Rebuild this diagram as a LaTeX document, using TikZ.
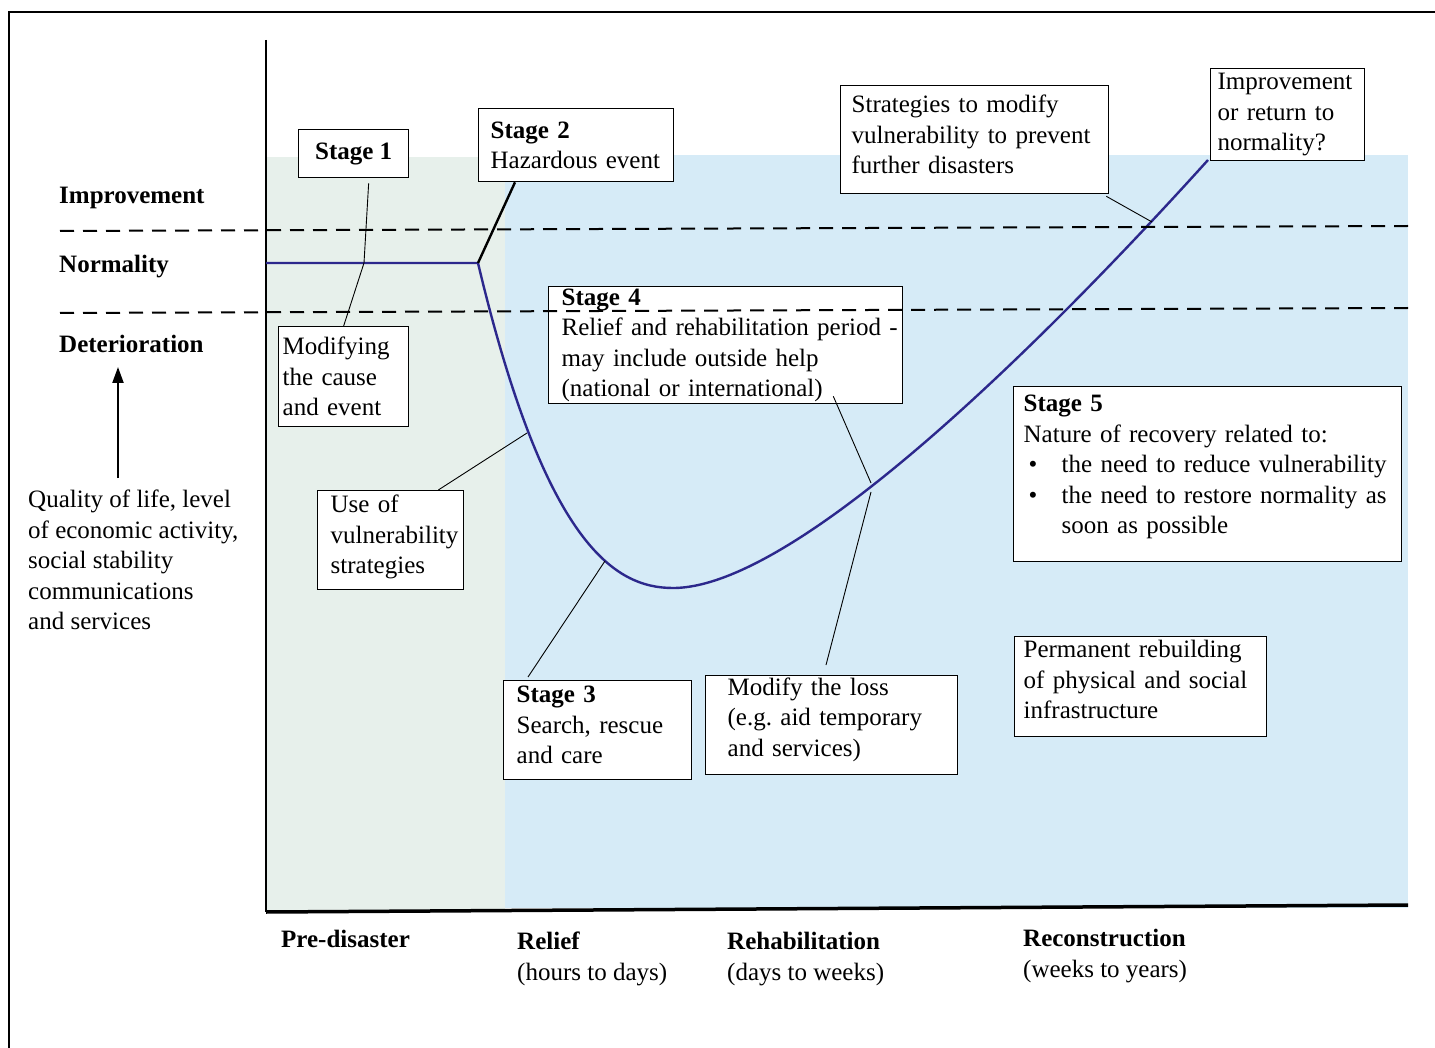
\documentclass[tikz,border=0pt]{standalone}
\usepackage{fontspec}
\setmainfont{Liberation Serif}
\usetikzlibrary{arrows.meta}

\definecolor{predis}{RGB}{231,240,235}
\definecolor{postdis}{RGB}{214,235,247}
\definecolor{curveblue}{RGB}{44,40,140}
\newcommand{\chartfont}{\fontsize{25}{30.5}\selectfont\frenchspacing}

\tikzset{
    box/.style={draw, line width=1.3pt, fill=white, inner sep=0pt, anchor=north west, align=left},
    lpad/.style={execute at begin node={\leftskip=#1pt\relax}},
    lift/.style={execute at end node={\rule[-#1pt]{0pt}{0pt}}},
    leader/.style={line width=0.9pt},
    lab/.style={inner sep=0pt, anchor=base west, font=\chartfont\bfseries},
    dashline/.style={line width=2pt, dash pattern=on 14pt off 9pt},
    uparrow/.style={line width=2.2pt, -{Triangle[length=16pt,width=11pt]}},
}

\begin{document}
\begin{tikzpicture}[x=1pt, y=-1pt, font=\chartfont]
    \useasboundingbox (0,0) rectangle (1435,1048);

    % frame
    \draw[line width=2.5pt] (9,1048) -- (9,12) -- (1435,12);

    % periods
    \fill[predis] (266,157) rectangle (505,912);
    \fill[postdis] (505,155) rectangle (1408,908);

    % axes
    \draw[line width=2.5pt] (266,40) -- (266,912);
    \draw[line width=3.5pt] (266,912) -- (1408,905);

    % points on the curve
    \coordinate (start) at (266,263);
    \coordinate (kink) at (478,263);
    \coordinate (c1) at (364,263);
    \coordinate (cUse) at (527,433);
    \coordinate (cS3) at (605,561);
    \coordinate (cS4) at (871,486);
    \coordinate (cStr) at (1152,222);

    % curve
    \draw[curveblue, line width=2.4pt] (start) -- (kink)
        .. controls (545,545) and (615,588) .. (673,588)
        .. controls (800,588) and (1058,326) .. (1208,160);

    % left labels
    \node[lab] (impr) at (59,204) {Improvement};
    \node[lab] (norm) at (59,273) {Normality};
    \node[lab] (det) at (59,353) {Deterioration};
    \node[inner sep=0pt, anchor=north west, align=left] (qual) at (28,490)
        {Quality of life, level\\of economic activity,\\social stability\\communications\\and services};
    \draw[uparrow] ([xshift=90pt,yshift=12pt]qual.north west) -- ([xshift=59pt,yshift=-14pt]det.base west);

    % boxes
    \node[box, align=center, minimum width=110pt, minimum height=48pt, font=\chartfont\bfseries] (s1) at (298,129) {Stage 1};
    \node[box, lpad=12, text width=195pt, minimum height=73pt] (s2) at (478,108)
        {\textbf{Stage 2}\\Hazardous event};
    \node[box, lpad=11, lift=10, text width=268pt, minimum height=108pt] (str) at (840,85)
        {Strategies to modify\\vulnerability to prevent\\further disasters};
    \node[box, lpad=7, text width=154pt, minimum height=92pt] (imp) at (1210,68)
        {Improvement\\or return to\\normality?};
    \node[box, lpad=4, text width=130pt, minimum height=100pt] (mod) at (278,326)
        {Modifying\\the cause\\and event};
    \node[box, lpad=13, text width=354pt, minimum height=117pt] (s4) at (548,286)
        {\textbf{Stage 4}\\Relief and rehabilitation period -\\may include outside help\\(national or international)};
    \node[box, lpad=13, lift=11, text width=146pt, minimum height=99pt] (use) at (317,490)
        {Use of\\vulnerability\\strategies};
    \node[box, lpad=13, lift=10, text width=188pt, minimum height=99pt] (s3) at (503,680)
        {\textbf{Stage 3}\\Search, rescue\\and care};
    \node[box, lpad=22, lift=16, text width=252pt, minimum height=99pt] (loss) at (705,675)
        {Modify the loss\\(e.g. aid temporary\\and services)};
    \node[box, lpad=10, lift=19, text width=388pt, minimum height=175pt] (s5) at (1013,386)
        {\textbf{Stage 5}\\Nature of recovery related to:\\
        \hspace*{5pt}\makebox[33pt][l]{\textbullet}the need to reduce vulnerability\\
        \hspace*{5pt}\makebox[33pt][l]{\textbullet}the need to restore normality as\\
        \hspace*{38pt}soon as possible};
    \node[box, lpad=9, lift=14, text width=252pt, minimum height=100pt] (perm) at (1014,636)
        {Permanent rebuilding\\of physical and social\\infrastructure};

    % leaders
    \draw[line width=2.4pt] (kink) -- ([xshift=37pt]s2.south west);
    \draw[leader] ([xshift=15pt,yshift=-5pt]s1.south) -- (c1) -- (mod.north);
    \draw[leader] ([xshift=-3pt,yshift=-2pt]str.south east) -- (cStr);
    \draw[leader] ([xshift=-26pt]use.north east) -- (cUse);
    \draw[leader] ([xshift=25pt,yshift=3pt]s3.north west) -- (cS3);
    \draw[leader] ([xshift=-70pt,yshift=8pt]s4.south east) -- ([yshift=3pt]cS4);
    \draw[leader] ([xshift=121pt,yshift=10pt]loss.north west) -- ([yshift=-6pt]cS4);

    % levels
    \draw[dashline] (60,231) -- (1408,226);
    \draw[dashline] (60,313) -- (1408,308);

    % periods on the axis
    \node[lab] (pre) at (281,947) {Pre-disaster};
    \node[inner sep=0pt, anchor=north west, align=left] (relief) at (517,932)
        {\textbf{Relief}\\(hours to days)};
    \node[inner sep=0pt, anchor=north west, align=left] (rehab) at (727,932)
        {\textbf{Rehabilitation}\\(days to weeks)};
    \node[inner sep=0pt, anchor=north west, align=left] (recon) at (1023,929)
        {\textbf{Reconstruction}\\(weeks to years)};
\end{tikzpicture}
\end{document}
